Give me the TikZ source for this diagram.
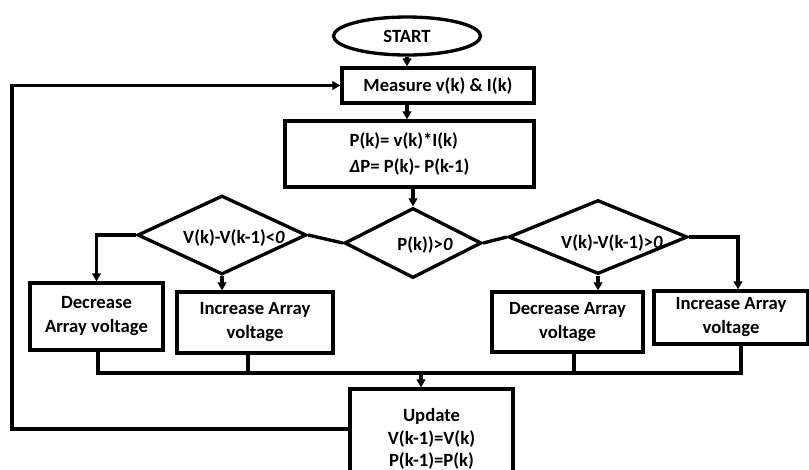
\documentclass[tikz,border=0pt]{standalone}
\usepackage{fontspec}
\setmainfont{Carlito}
\usetikzlibrary{shapes.geometric,arrows.meta,calc}
\def\PX{0.75pt}
\tikzset{
  ff/.style={font=\bfseries\fontsize{14}{18}\selectfont},
  box/.style={draw, line width=2.5pt, rectangle, inner sep=0pt, align=center, ff},
  dia/.style={draw, diamond, line width=2.5pt, inner sep=0pt},
  txt/.style={inner sep=0pt, align=center, ff},
  conn/.style={line width=2.5pt},
  arr/.style={conn, -{Triangle[length=6pt,width=6.5pt]}},
}
\begin{document}
\begin{tikzpicture}[x=0.75pt,y=-0.75pt]
\useasboundingbox (0,0) rectangle (809,469);
\clip (0,0) rectangle (809,469);

% nodes
\node[draw, ellipse, line width=2.5pt, inner sep=0pt, ff,
      minimum width=147*\PX, minimum height=38*\PX] (start) at (407,36) {START};
\node[box, minimum width=192*\PX, minimum height=35*\PX] (meas) at (438,85.5) {Measure v(k) \& I(k)};
\node[box, minimum width=249*\PX, minimum height=66*\PX, align=left,
      font=\bfseries\fontsize{14}{19.5}\selectfont] (calc) at (409.5,154)
      {P(k)= v(k)*I(k)\\\textit{Δ}P= P(k)- P(k-1)};

\node[dia, minimum width=169*\PX, minimum height=79*\PX] (dl) at (222,235) {};
\node[dia, minimum width=137*\PX, minimum height=70*\PX] (dc) at (413,243) {};
\node[dia, minimum width=179*\PX, minimum height=74*\PX] (dr) at (598,237) {};
\node[txt] (tl) at (234,238) {V(k)-V(k-1)<\textit{0}};
\node[txt] (tc) at (425,245) {P(k))>\textit{0}};
\node[txt] (tr) at (612,243) {V(k)-V(k-1)>\textit{0}};

\node[box, minimum width=133*\PX, minimum height=67*\PX] (b1) at (96.5,316.5) {Decrease\\Array voltage};
\node[box, minimum width=156*\PX, minimum height=61*\PX] (b2) at (255,322.5) {Increase Array\\voltage};
\node[box, minimum width=151*\PX, minimum height=60*\PX] (b3) at (567.5,322) {Decrease Array\\voltage};
\node[box, minimum width=154*\PX, minimum height=53*\PX] (b4) at (731,317.5) {Increase Array\\voltage};

\node[box, minimum width=163*\PX, minimum height=100*\PX,
      font=\bfseries\fontsize{14}{17}\selectfont] (upd) at (431.5,439)
      {Update\\V(k-1)=V(k)\\P(k-1)=P(k)};

% connectors
\draw[arr] (start.south) -- (start.south |- meas.north);
\draw[arr] (start.south |- meas.south) -- (start.south |- calc.north);
\draw[arr] (calc.south -| dc.north) -- (dc.north);
\draw[conn] (dl.east) -- (dc.west);
\draw[conn] (dc.east) -- (dr.west);
\draw[arr] (dl.west) -| (b1.north);
\draw[arr] (dl.south) -- (dl.south |- b2.north);
\draw[arr] (dr.south) -- (dr.south |- b3.north);
\draw[arr] (dr.east) -| ($(b4.north)+(7,0)$);

\coordinate (j1) at (98,373);
\coordinate (j2) at (248,373);
\coordinate (j3) at (574,373);
\coordinate (j4) at (741,373);
\coordinate (ju) at (421,373);
\draw[conn] (j1 |- b1.south) -- (j1) -- (j4) -- (j4 |- b4.south);
\draw[conn] (j2 |- b2.south) -- (j2);
\draw[conn] (j3 |- b3.south) -- (j3);
\draw[arr] (ju) -- (ju |- upd.north);

\coordinate (l1) at (12,429);
\draw[arr] (l1 -| upd.west) -- (l1) |- (meas.west);
\end{tikzpicture}
\end{document}
